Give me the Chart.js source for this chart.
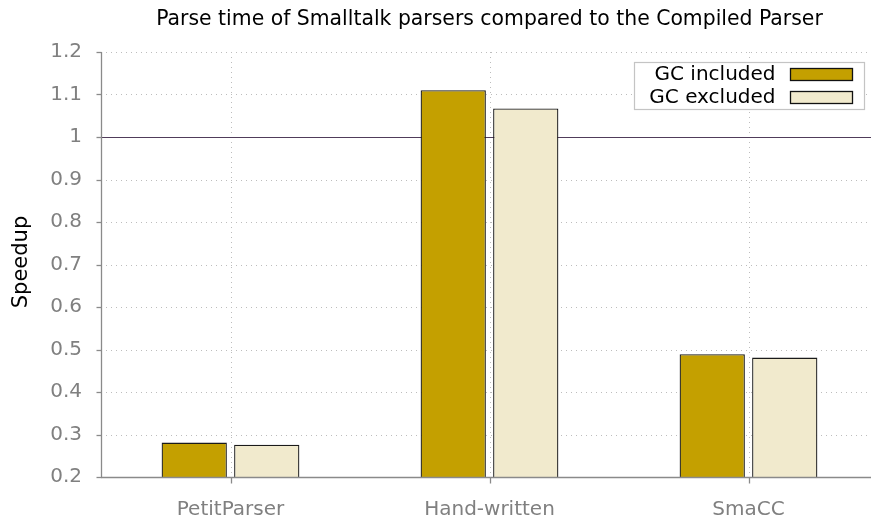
<!DOCTYPE html>
<html>
<head>
<meta charset="utf-8">
<script src="https://cdn.jsdelivr.net/npm/chart.js@4.4.1/dist/chart.umd.min.js"></script>
<style>
  html, body { margin: 0; padding: 0; background: #fff; overflow: hidden; }
  #wrap { width: 980px; height: 521px; }
</style>
</head>
<body>
<div id="wrap"><canvas id="c" width="980" height="521"></canvas></div>
<script>
const categories = ['PetitParser', 'Hand-written', 'SmaCC'];
const gcIncluded = [0.281, 1.110, 0.489];
const gcExcluded = [0.276, 1.067, 0.481];
const seriesNames = ['GC included', 'GC excluded'];
const yTicks = [0.2, 0.3, 0.4, 0.5, 0.6, 0.7, 0.8, 0.9, 1, 1.1, 1.2];
const titleText = 'Parse time of Smalltalk parsers compared to the Compiled Parser';
const yAxisTitle = 'Speedup';

const FONT = '"DejaVu Sans", sans-serif';
const FS = 20;
const colors = ['#c4a000', '#f1eacd'];

const decor = {
  id: 'decor',
  beforeDatasetsDraw(chart) {
    const ctx = chart.ctx, ca = chart.chartArea;
    const x = chart.scales.x, y = chart.scales.y;
    ctx.save();
    ctx.strokeStyle = '#bdbdbd';
    ctx.lineWidth = 1;
    ctx.setLineDash([1, 4]);
    yTicks.forEach(v => {
      if (v === 1 || v === 0.2) return;
      const py = Math.round(y.getPixelForValue(v)) + 0.5;
      ctx.beginPath(); ctx.moveTo(ca.left, py); ctx.lineTo(ca.right, py); ctx.stroke();
    });
    categories.forEach((c, i) => {
      const px = Math.round(x.getPixelForValue(i)) + 0.5;
      ctx.beginPath(); ctx.moveTo(px, ca.top); ctx.lineTo(px, ca.bottom); ctx.stroke();
    });
    ctx.setLineDash([]);
    const p1 = Math.round(y.getPixelForValue(1)) + 0.5;
    ctx.strokeStyle = '#503c5a';
    ctx.lineWidth = 1.2;
    ctx.beginPath(); ctx.moveTo(ca.left, p1); ctx.lineTo(ca.right, p1); ctx.stroke();
    ctx.restore();
  },
  afterDatasetsDraw(chart) {
    const ctx = chart.ctx, ca = chart.chartArea;
    const x = chart.scales.x, y = chart.scales.y;
    ctx.save();
    ctx.strokeStyle = '#8a8a8a';
    ctx.lineWidth = 1.3;
    const ax = Math.round(ca.left) + 0.5, ay = Math.round(ca.bottom) + 0.5;
    ctx.beginPath(); ctx.moveTo(ax, ca.top); ctx.lineTo(ax, ay); ctx.lineTo(ca.right, ay); ctx.stroke();
    yTicks.forEach(v => {
      const py = Math.round(y.getPixelForValue(v)) + 0.5;
      ctx.beginPath(); ctx.moveTo(ax - 5, py); ctx.lineTo(ax, py); ctx.stroke();
    });
    categories.forEach((c, i) => {
      const px = Math.round(x.getPixelForValue(i)) + 0.5;
      ctx.beginPath(); ctx.moveTo(px, ay); ctx.lineTo(px, ay + 6); ctx.stroke();
    });
    // title
    ctx.fillStyle = '#000';
    ctx.font = '20.4px ' + FONT;
    ctx.textAlign = 'center';
    ctx.textBaseline = 'alphabetic';
    ctx.fillText(titleText, (ca.left + ca.right) / 2, 25);
    // y axis title
    ctx.save();
    ctx.font = '21px ' + FONT;
    ctx.translate(22, (ca.top + ca.bottom) / 2 - 2.5);
    ctx.rotate(-Math.PI / 2);
    ctx.textBaseline = 'middle';
    ctx.fillText(yAxisTitle, 0, 0);
    ctx.restore();
    // legend
    ctx.font = FS + 'px ' + FONT;
    const bx = ca.right - 243.5, by = ca.top + 10.5, bw = 230, bh = 47;
    ctx.fillStyle = '#fff';
    ctx.fillRect(bx, by, bw, bh);
    ctx.strokeStyle = '#c4c4c4';
    ctx.lineWidth = 1.2;
    ctx.strokeRect(bx, by, bw, bh);
    chart.data.datasets.forEach((ds, i) => {
      const cy = by + 12 + i * 23;
      ctx.fillStyle = '#000';
      ctx.textAlign = 'right';
      ctx.textBaseline = 'middle';
      ctx.fillText(ds.label, bx + 141, cy);
      ctx.fillStyle = ds.backgroundColor;
      ctx.fillRect(bx + 156, cy - 6, 62, 12);
      ctx.strokeStyle = '#111';
      ctx.lineWidth = 1.3;
      ctx.strokeRect(bx + 156, cy - 6, 62, 12);
    });
    ctx.restore();
  }
};

new Chart(document.getElementById('c'), {
  type: 'bar',
  data: {
    labels: categories,
    datasets: [
      { label: seriesNames[0], data: gcIncluded, backgroundColor: colors[0], borderColor: '#1a1a1a', borderWidth: 1.3 },
      { label: seriesNames[1], data: gcExcluded, backgroundColor: colors[1], borderColor: '#1a1a1a', borderWidth: 1.3 }
    ]
  },
  options: {
    responsive: false,
    animation: false,
    events: [],
    layout: { padding: { top: 52, right: 102, left: 0, bottom: 0 } },
    datasets: { bar: { categoryPercentage: 0.56, barPercentage: 0.9 } },
    plugins: { legend: { display: false }, title: { display: false }, tooltip: { enabled: false } },
    scales: {
      x: {
        grid: { display: false },
        border: { display: false },
        ticks: { color: '#808080', font: { family: FONT, size: FS }, padding: 13, maxRotation: 0 },
        afterFit(s) { s.height = 44; }
      },
      y: {
        min: 0.2, max: 1.2,
        afterBuildTicks(s) { s.ticks = yTicks.map(v => ({ value: v })); },
        grid: { display: false },
        border: { display: false },
        ticks: { color: '#808080', font: { family: FONT, size: FS }, padding: 11, callback: v => String(+v.toFixed(1)) },
        afterFit(s) { s.width = 101; }
      }
    }
  },
  plugins: [decor]
});
</script>
</body>
</html>
